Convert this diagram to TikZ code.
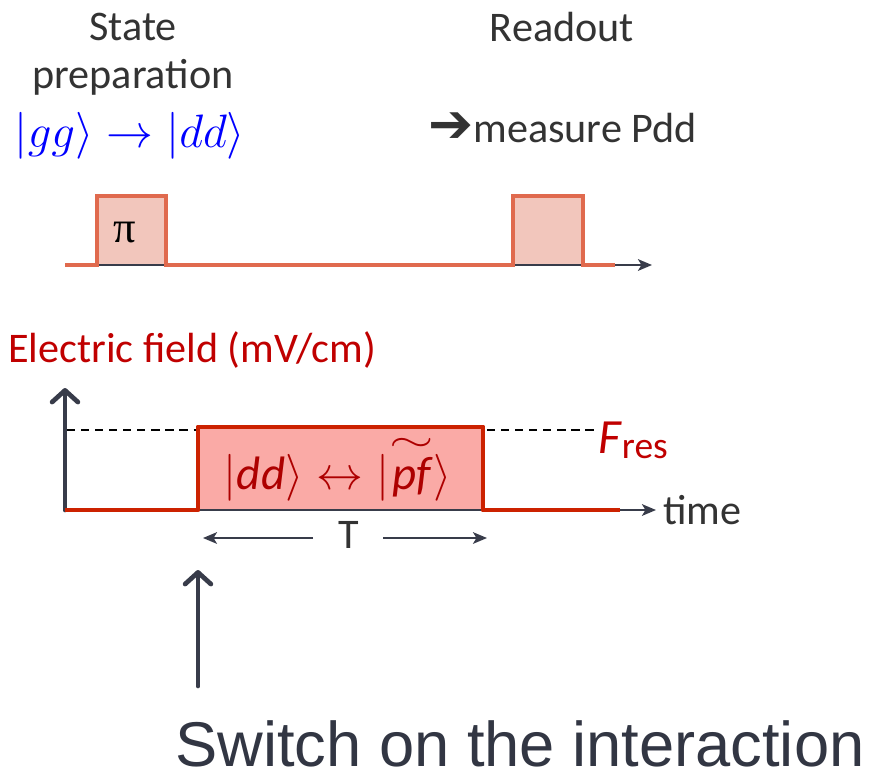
\RequirePackage{fix-cm}
\documentclass[tikz,border=0pt]{standalone}
\usepackage{fontspec}
\setmainfont{Carlito}
\newfontfamily\symfont{DejaVu Sans}
\newfontfamily\bigfont{Liberation Sans}
\newfontfamily\pifont{Liberation Serif}
\usepackage{amsmath}
\usepackage{graphicx}
\usepackage{xcolor}
\usetikzlibrary{positioning, arrows.meta, calc}

\definecolor{pulseline}{RGB}{224,106,78}
\definecolor{pulsefill}{RGB}{242,198,188}
\definecolor{fieldline}{RGB}{204,34,0}
\definecolor{fieldfill}{RGB}{250,170,166}
\definecolor{axisgray}{RGB}{56,60,74}
\definecolor{labelred}{RGB}{192,0,0}
\definecolor{textgray}{RGB}{51,51,51}
\newcommand{\bigtilde}{\resizebox{0.95em}{0.28em}{$\sim$}}

\begin{document}
\begin{tikzpicture}[x=0.03cm, y=-0.03cm,
    lbl/.style={font=\fontsize{36}{40}\selectfont, text=textgray, inner sep=0pt},
    redlbl/.style={lbl, text=labelred},
    axis/.style={draw=axisgray, line width=1.7pt, -{Stealth[length=12pt, width=10pt, inset=3pt]}},
    yaxis/.style={draw=axisgray, line width=4pt, line cap=round,
                  -{Straight Barb[length=10pt, width=22pt, line width=4pt, round]}},
    thinarr/.style={draw=axisgray, line width=1.3pt, -{Stealth[length=12pt, width=10pt, inset=3pt]}},
    pulse/.style={line width=3.4pt, line join=miter},
    field/.style={line width=4.2pt, line join=round}]
    \useasboundingbox (0,0) rectangle (872,770);

    % labels on top
    \node[lbl] (state) at (133,27) {State};
    \node[lbl] (prep) at (133,77) {preparation};
    \node[inner sep=0pt, text=blue, font=\fontsize{40}{44}\selectfont]
      (gg) at (130,136) {$|gg\rangle \to |dd\rangle$};
    \node[lbl] (readout) at (562,27) {Readout};
    \node[lbl, anchor=west] (meas) at (428,128)
      {{\symfont\fontsize{46}{46}\selectfont ➔}measure Pdd};

    % laser pulses
    \draw[axis] (65,265) -- (652,265);
    \fill[pulsefill] (97,265) rectangle (166,196);
    \fill[pulsefill] (513,265) rectangle (583,196);
    \draw[axisgray, line width=1.2pt] (97,265) -- (166,265) (513,265) -- (583,265);
    \draw[pulse, pulseline] (65,265) -- (97,265) -- (97,196) -- (166,196)
      -- (166,265) -- (513,265) -- (513,196) -- (583,196) -- (583,265) -- (615,265);
    \node[font=\pifont\fontsize{38}{40}\selectfont, inner sep=0pt] (pi) at (125,232) {π};

    % electric field
    \node[redlbl, anchor=west] (efield) at (8,350) {Electric field (mV/cm)};
    \draw[axis] (65,510) -- (656,510);
    \draw[yaxis] (65,510) -- (65,388);
    \draw[dashed, dash pattern=on 7pt off 5pt, line width=1.4pt]
      (67,430) -- (198,430) (487,430) -- (596,430);
    \fill[fieldfill] (198,510) rectangle (483,427);
    \draw[axisgray, line width=1.2pt] (198,510) -- (483,510);
    \draw[field, fieldline] (65,510) -- (198,510) -- (198,427) -- (483,427)
      -- (483,510) -- (620,510);
    \node[inner sep=0pt, text=labelred!90!black, font=\fontsize{40}{44}\selectfont]
      (ddpf) at (338,468)
      {$|\textit{dd}\rangle \leftrightarrow |\overset{\bigtilde}{\textit{pf}}\rangle$};
    \node[redlbl, anchor=west] (fres) at (598,440)
      {\fontsize{42}{44}\selectfont\textit{F}\raisebox{-4pt}{\fontsize{32}{34}\selectfont res}};
    \node[lbl, anchor=west] (time) at (663,510) {time};

    % duration
    \node[lbl] (T) at (349,535) {T};
    \coordinate (tleftfoot) at (313,538);
    \coordinate (tleft) at (203,538);
    \coordinate (trightfoot) at (383,538);
    \coordinate (tright) at (487,538);
    \draw[thinarr] (tleftfoot) -- (tleft);
    \draw[thinarr] (trightfoot) -- (tright);

    % switch on
    \node[font=\bigfont\fontsize{54}{60}\selectfont, text=axisgray!90!black, inner sep=0pt,
          anchor=base west] (switch) at (175,766) {Switch on the interaction};
    \coordinate (on) at (198,570);
    \coordinate (onfoot) at (198,686);
    \draw[yaxis] (onfoot) -- (on);
\end{tikzpicture}
\end{document}
